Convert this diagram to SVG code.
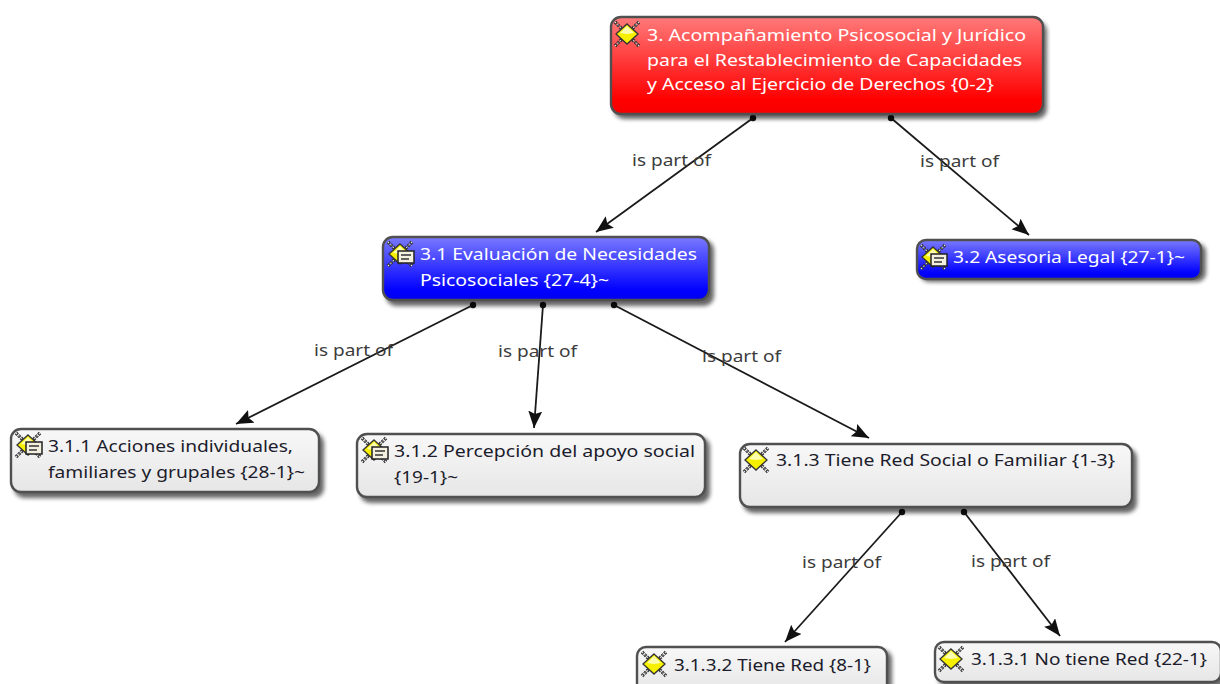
<svg xmlns="http://www.w3.org/2000/svg" width="1220" height="684" viewBox="0 0 1220 684">
<style>
text{font-family:"Noto Sans","DejaVu Sans",sans-serif;font-size:16.5px}
.lbl{fill:#3c3c3c}
.w{fill:#fff}
.k{fill:#1c1c2c}
.box{stroke:#505050;stroke-width:2.4}
.red{fill:url(#gr)}
.blue{fill:url(#gb)}
.gray{fill:url(#gg)}
.sh{fill:#000;opacity:.6;filter:url(#bl)}
.con{stroke:#1a1a1a;stroke-width:1.8;fill:none;marker-end:url(#arr);marker-start:url(#dot)}
</style>
<defs>
<linearGradient id="gr" x1="0" y1="0" x2="0" y2="1"><stop offset="0" stop-color="#ff7a7a"/><stop offset=".85" stop-color="#ff0000"/><stop offset="1" stop-color="#f80000"/></linearGradient>
<linearGradient id="gb" x1="0" y1="0" x2="0" y2="1"><stop offset="0" stop-color="#7a7aff"/><stop offset=".85" stop-color="#0000ff"/><stop offset="1" stop-color="#0000f0"/></linearGradient>
<linearGradient id="gg" x1="0" y1="0" x2="0" y2="1"><stop offset="0" stop-color="#f8f8f8"/><stop offset="1" stop-color="#e6e6e6"/></linearGradient>
<filter id="bl" x="-10%" y="-30%" width="120%" height="160%"><feGaussianBlur stdDeviation="2"/></filter>
<marker id="arr" markerUnits="userSpaceOnUse" markerWidth="18" markerHeight="16" refX="17" refY="7" orient="auto"><path d="M0 0L17 7L0 14L3 7Z" fill="#111"/></marker>
<marker id="dot" markerUnits="userSpaceOnUse" markerWidth="8" markerHeight="8" refX="4" refY="4"><circle cx="4" cy="4" r="3.2" fill="#111"/></marker>
<g id="dia">
<path d="M1 1L8 8M25 1L18 8M1 25L8 18M25 25L18 18" stroke="#333" stroke-width="3.4" stroke-dasharray="2.4 1"/>
<path d="M1 1L8 8M25 1L18 8M1 25L8 18M25 25L18 18" stroke="#ddd" stroke-width="1.2" stroke-dasharray="1.4 2"/>
<path d="M13 3L24 13L13 23L2 13Z" fill="#f6f000" stroke="#333" stroke-width="1.3"/>
<path d="M13 5L20 12L13 13L6 12Z" fill="#fdfdb0"/>
</g>
<g id="doc">
<use href="#dia"/>
<rect x="11" y="10" width="16" height="12" fill="#f4f0e0" stroke="#222" stroke-width="1.5"/>
<path d="M14 14H24M14 18H22" stroke="#333" stroke-width="1.4"/>
</g>
</defs>
<rect width="1220" height="684" fill="#fff"/>

<g id="connectors">
<line class="con" x1="753" y1="118" x2="596" y2="232"/>
<line class="con" x1="891" y1="118" x2="1029" y2="235"/>
<line class="con" x1="473" y1="305" x2="236" y2="424"/>
<line class="con" x1="543" y1="305" x2="534" y2="428"/>
<line class="con" x1="614" y1="305" x2="869" y2="438"/>
<line class="con" x1="902" y1="512" x2="785" y2="642"/>
<line class="con" x1="964" y1="512" x2="1060" y2="636"/>
<text class="lbl" x="632" y="166" textLength="79" lengthAdjust="spacingAndGlyphs">is part of</text>
<text class="lbl" x="920" y="167" textLength="79" lengthAdjust="spacingAndGlyphs">is part of</text>
<text class="lbl" x="314" y="356" textLength="79" lengthAdjust="spacingAndGlyphs">is part of</text>
<text class="lbl" x="498" y="357" textLength="79" lengthAdjust="spacingAndGlyphs">is part of</text>
<text class="lbl" x="702" y="362" textLength="79" lengthAdjust="spacingAndGlyphs">is part of</text>
<text class="lbl" x="802" y="568" textLength="79" lengthAdjust="spacingAndGlyphs">is part of</text>
<text class="lbl" x="971" y="567" textLength="79" lengthAdjust="spacingAndGlyphs">is part of</text>
</g>

<g id="n3">
<rect class="sh" x="614" y="21" width="433" height="98" rx="10"/>
<rect class="box red" x="611" y="17" width="432" height="97" rx="10"/>
<use href="#dia" x="614" y="21"/>
<text class="w" x="647" y="41" textLength="379" lengthAdjust="spacingAndGlyphs">3. Acompañamiento Psicosocial y Jurídico</text>
<text class="w" x="647" y="66" textLength="375" lengthAdjust="spacingAndGlyphs">para el Restablecimiento de Capacidades</text>
<text class="w" x="647" y="90" textLength="347" lengthAdjust="spacingAndGlyphs">y Acceso al Ejercicio de Derechos {0-2}</text>
</g>

<g id="n31">
<rect class="sh" x="386" y="240" width="328" height="66" rx="10"/>
<rect class="box blue" x="383" y="237" width="326" height="63" rx="10"/>
<use href="#doc" x="387" y="241"/>
<text class="w" x="420" y="260" textLength="277" lengthAdjust="spacingAndGlyphs">3.1 Evaluación de Necesidades</text>
<text class="w" x="420" y="286" textLength="189" lengthAdjust="spacingAndGlyphs">Psicosociales {27-4}~</text>
</g>

<g id="n32">
<rect class="sh" x="920" y="243" width="286" height="39" rx="9"/>
<rect class="box blue" x="917" y="240" width="284" height="39" rx="9"/>
<use href="#doc" x="920" y="244"/>
<text class="w" x="953" y="263" textLength="232" lengthAdjust="spacingAndGlyphs">3.2 Asesoria Legal {27-1}~</text>
</g>

<g id="n311">
<rect class="sh" x="14" y="433" width="310" height="65" rx="10"/>
<rect class="box gray" x="11" y="429" width="308" height="63" rx="10"/>
<use href="#doc" x="15" y="432"/>
<text class="k" x="48" y="452" textLength="245" lengthAdjust="spacingAndGlyphs">3.1.1 Acciones individuales,</text>
<text class="k" x="48" y="478" textLength="257" lengthAdjust="spacingAndGlyphs">familiares y grupales {28-1}~</text>
</g>

<g id="n312">
<rect class="sh" x="360" y="437" width="350" height="66" rx="10"/>
<rect class="box gray" x="357" y="434" width="348" height="63" rx="10"/>
<use href="#doc" x="361" y="437"/>
<text class="k" x="394" y="457" textLength="301" lengthAdjust="spacingAndGlyphs">3.1.2 Percepción del apoyo social</text>
<text class="k" x="394" y="483" textLength="64" lengthAdjust="spacingAndGlyphs">{19-1}~</text>
</g>

<g id="n313">
<rect class="sh" x="743" y="448" width="394" height="65" rx="10"/>
<rect class="box gray" x="740" y="444" width="392" height="63" rx="10"/>
<use href="#dia" x="743" y="447"/>
<text class="k" x="776" y="466" textLength="339" lengthAdjust="spacingAndGlyphs">3.1.3 Tiene Red Social o Familiar {1-3}</text>
</g>

<g id="n3132">
<rect class="sh" x="640" y="650" width="252" height="45" rx="9"/>
<rect class="box gray" x="637" y="647" width="250" height="45" rx="9"/>
<use href="#dia" x="641" y="651"/>
<text class="k" x="674" y="671" textLength="197" lengthAdjust="spacingAndGlyphs">3.1.3.2 Tiene Red {8-1}</text>
</g>

<g id="n3131">
<rect class="sh" x="938" y="645" width="288" height="42" rx="9"/>
<rect class="box gray" x="935" y="642" width="286" height="40" rx="9"/>
<use href="#dia" x="938" y="646"/>
<text class="k" x="971" y="665" textLength="236" lengthAdjust="spacingAndGlyphs">3.1.3.1 No tiene Red {22-1}</text>
</g>
</svg>
